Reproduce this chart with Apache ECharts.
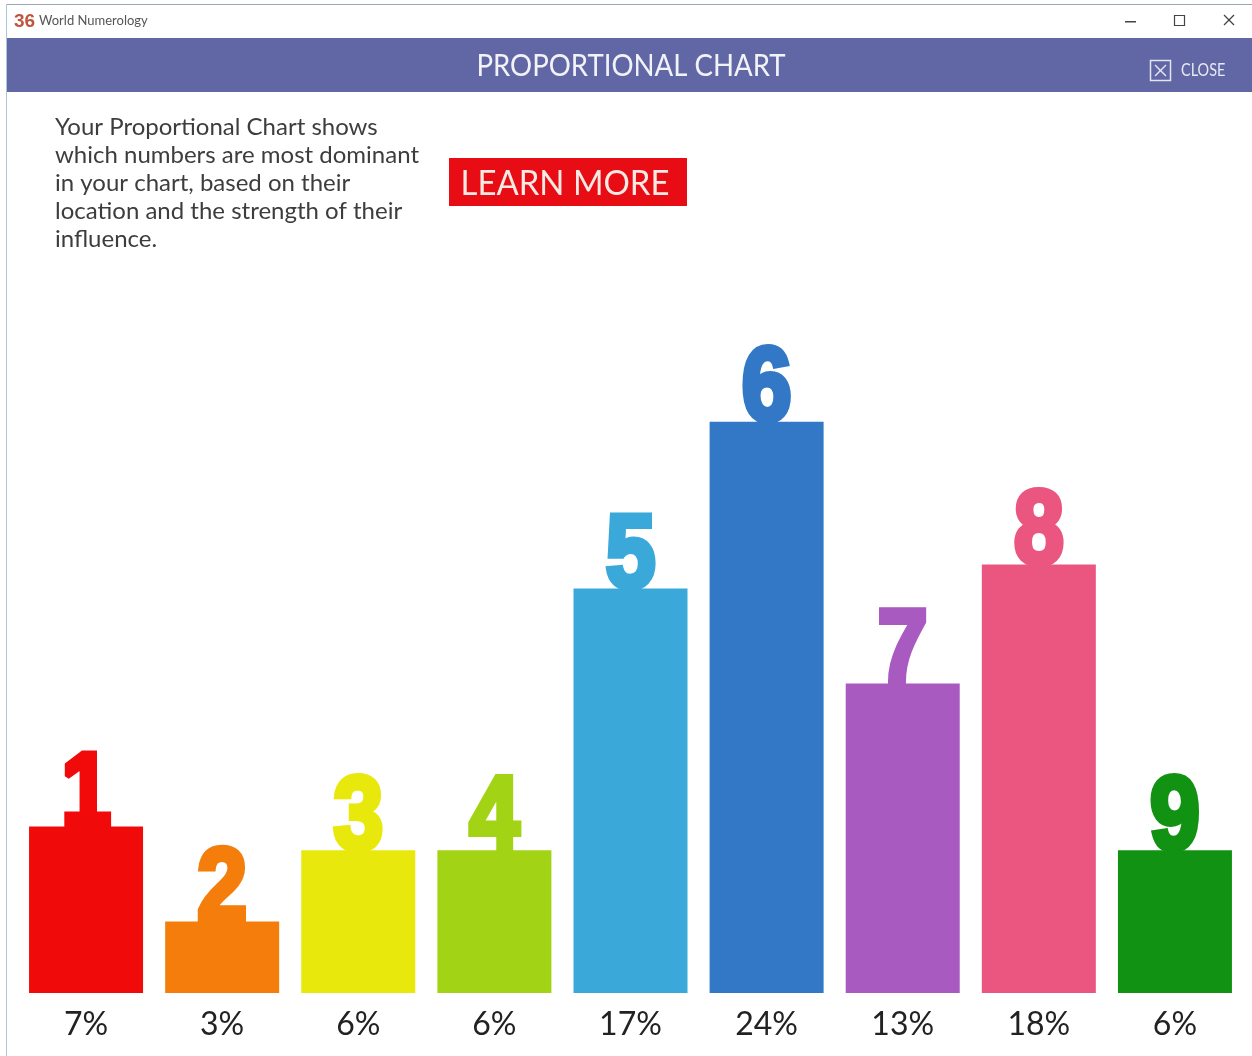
<!DOCTYPE html>
<html>
<head>
<meta charset="utf-8">
<title>Proportional Chart</title>
<script src="https://cdn.jsdelivr.net/npm/echarts@6/dist/echarts.min.js"></script>
<style>
    html, body { margin: 0; padding: 0; background: #fff; }
    #main { width: 1252px; height: 1056px; }
</style>
</head>
<body>
<div id="main"></div>
<script>
// 数据
var numbers = ['1', '2', '3', '4', '5', '6', '7', '8', '9'];
var percents = [7, 3, 6, 6, 17, 24, 13, 18, 6];
var bar_colors = ['#f10a0a', '#f47d0c', '#e8e80c', '#a2d314', '#3aa9da', '#3278c6', '#a95ac0', '#ea5680', '#129212'];
var intro_lines = [
    'Your Proportional Chart shows',
    'which numbers are most dominant',
    'in your chart, based on their',
    'location and the strength of their',
    'influence.'
];

var body_font = 'Lato';
var digit_font = '"Liberation Sans", sans-serif';
var my_charts = echarts.init(document.getElementById('main'));

// 窗口外框、标题栏
var chrome = [
    { type: 'rect', shape: { x: 6, y: 4, width: 1246, height: 1 }, style: { fill: '#9aa7b5' } },
    { type: 'rect', shape: { x: 6, y: 4, width: 1, height: 1052 }, style: { fill: '#a9c6dc' } },
    { type: 'rect', shape: { x: 7, y: 38, width: 1245, height: 54 }, style: { fill: '#6166a5' } },
    // 图标
    { type: 'text', x: 14, y: 12, style: { text: '36', fill: '#c0553f', font: 'bold 19px ' + digit_font } },
    { type: 'text', x: 39, y: 14, style: { text: 'World Numerology', fill: '#555', font: '13px ' + body_font } },
    // 最小化、最大化、关闭
    { type: 'rect', shape: { x: 1125, y: 21, width: 11, height: 1.5 }, style: { fill: '#444' } },
    { type: 'rect', shape: { x: 1174.5, y: 15.5, width: 10, height: 10 }, style: { fill: 'none', stroke: '#444', lineWidth: 1.2 } },
    { type: 'line', shape: { x1: 1224, y1: 15, x2: 1234, y2: 25 }, style: { stroke: '#444', lineWidth: 1.2 } },
    { type: 'line', shape: { x1: 1234, y1: 15, x2: 1224, y2: 25 }, style: { stroke: '#444', lineWidth: 1.2 } },
    // 头部文字
    { type: 'text', x: 631, y: 66, scaleX: 0.89, style: { text: 'PROPORTIONAL CHART', fill: '#f2f3f8', font: '31px ' + body_font, align: 'center', verticalAlign: 'middle' } },
    { type: 'rect', shape: { x: 1150.5, y: 60.5, width: 20, height: 20 }, style: { fill: 'none', stroke: '#e4e5f2', lineWidth: 1.5 } },
    { type: 'line', shape: { x1: 1155, y1: 65, x2: 1166, y2: 76 }, style: { stroke: '#e4e5f2', lineWidth: 1.5 } },
    { type: 'line', shape: { x1: 1166, y1: 65, x2: 1155, y2: 76 }, style: { stroke: '#e4e5f2', lineWidth: 1.5 } },
    { type: 'text', x: 1181, y: 71, scaleX: 0.85, style: { text: 'CLOSE', fill: '#e8e9f4', font: '17px ' + body_font, verticalAlign: 'middle' } },
    // 按钮
    { type: 'rect', shape: { x: 449, y: 158, width: 238, height: 48 }, style: { fill: '#e80c14' } },
    { type: 'text', x: 565, y: 184, scaleX: 0.94, style: { text: 'LEARN MORE', fill: '#f7e9e4', font: '35px ' + body_font, align: 'center', verticalAlign: 'middle' } }
];

var graphics = chrome.concat(intro_lines.map(function (line, i) {
    return {
        type: 'text',
        x: 55,
        y: 127 + i * 28,
        style: { text: line, fill: '#3d3d3d', font: '24px ' + body_font, verticalAlign: 'middle' }
    };
}));

var option = {
    animation: false,
    backgroundColor: '#fff',
    graphic: { elements: graphics },
    grid: { left: 18, top: 279, width: 1225, height: 714 },
    xAxis: {
        type: 'category',
        data: numbers,
        axisLine: { show: false },
        axisTick: { show: false },
        axisLabel: {
            margin: 16,
            color: '#222',
            fontFamily: body_font,
            fontSize: 32,
            formatter: function (value, index) {
                return percents[index] + '%';
            }
        }
    },
    yAxis: {
        type: 'value',
        min: 0,
        max: 30,
        show: false,
        splitLine: { show: false }
    },
    series: [{
        type: 'bar',
        barWidth: 114,
        data: percents.map(function (v, i) {
            return { value: v, itemStyle: { color: bar_colors[i] } };
        })
    }, {
        // 柱顶的大号数字，label 不能横向压缩，所以用 custom
        type: 'custom',
        clip: false,
        silent: true,
        data: percents.map(function (v, i) {
            return [i, v];
        }),
        renderItem: function (params, api) {
            var pos = api.coord([api.value(0), api.value(1)]);
            return {
                type: 'text',
                x: pos[0],
                y: pos[1] + 22,
                scaleX: 0.86,
                style: {
                    text: numbers[params.dataIndex],
                    font: 'bold 104px ' + digit_font,
                    align: 'center',
                    verticalAlign: 'bottom',
                    fill: bar_colors[params.dataIndex],
                    stroke: bar_colors[params.dataIndex],
                    lineWidth: 6
                }
            };
        }
    }]
};

my_charts.setOption(option);
</script>
</body>
</html>
